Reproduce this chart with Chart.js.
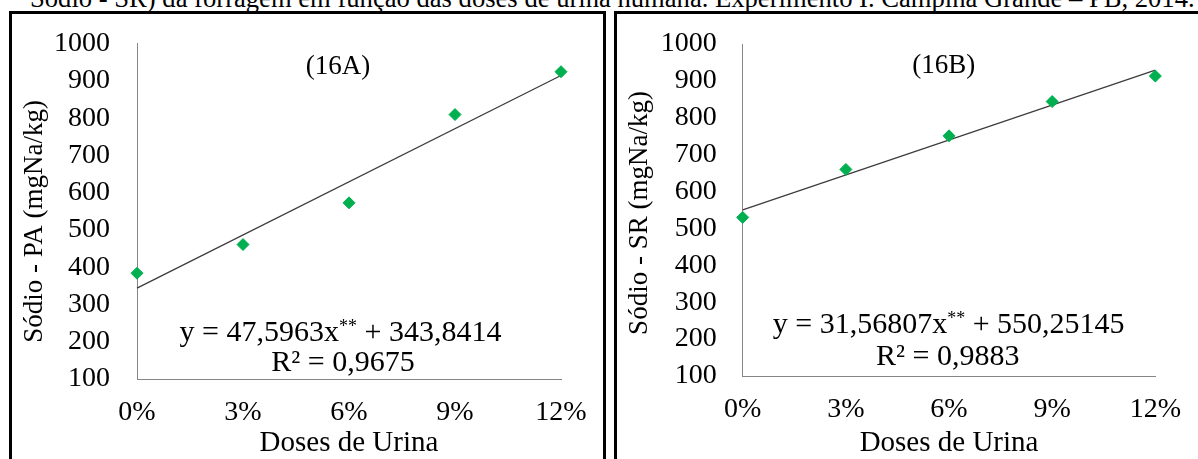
<!DOCTYPE html>
<html lang="pt-BR">
<head>
<meta charset="utf-8">
<title>Sódio na forragem em função das doses de urina humana</title>
<script src="https://cdn.jsdelivr.net/npm/chart.js@4.4.1/dist/chart.umd.min.js"></script>
<style>
  html, body { margin: 0; padding: 0; background: #fff; }
  body { width: 1198px; height: 459px; position: relative; overflow: hidden;
         font-family: "Liberation Serif", "Times New Roman", serif; }
  #caption { position: absolute; left: 30px; top: -15px; white-space: nowrap;
             font-size: 26px; line-height: 26px; color: #000; }
  .panel { position: absolute; top: 0; }
  #panelA { left: 0; }
  #panelB { left: 604px; }
  .frame { position: absolute; border: 3px solid #000; border-bottom: none; box-sizing: border-box; }
  #frameA { left: 9px; top: 11px; width: 597px; height: 470px; }
  #frameB { left: 614px; top: 11px; width: 620px; height: 470px; }
</style>
</head>
<body>
<div id="caption">Sódio - SR) da forragem em função das doses de urina humana. Experimento I. Campina Grande – PB, 2014.</div>
<div class="panel" id="panelA"><canvas id="chartA" width="604" height="459"></canvas></div>
<div class="panel" id="panelB"><canvas id="chartB" width="594" height="459"></canvas></div>
<div class="frame" id="frameA"></div>
<div class="frame" id="frameB"></div>
<script>
// Doses de urina (%) e teores de sódio (mg Na/kg)
const doses = [0, 3, 6, 9, 12];
const doseLabels = ['0%', '3%', '6%', '9%', '12%'];
const sodioPA = [384, 461, 573, 810, 925];
const sodioSR = [530, 660, 751, 844, 913];
const yLimits = [100, 1000];
const yStep = 100;

// Regressões lineares: [coeficiente angular, intercepto] e R²
const ajustePA = [47.5963, 343.8414];
const r2PA = 0.9675;
const ajusteSR = [31.56807, 550.25145];
const r2SR = 0.9883;

const SERIF = "'Liberation Serif', 'Times New Roman', serif";
const fmt = v => String(v).replace('.', ',');

Chart.defaults.font.family = SERIF;
Chart.defaults.color = '#000';

// Fit the caption line to its column width
(function () {
  const cap = document.getElementById('caption');
  const w = cap.getBoundingClientRect().width;
  cap.style.fontSize = (26 * 1165 / w) + 'px';
})();

// Vertical axis title, panel tag, regression equation and R²
const panelText = {
  id: 'panelText',
  afterDatasetsDraw(chart, args, o) {
    const { ctx, chartArea: a } = chart;
    ctx.save();
    ctx.fillStyle = '#000';

    // rotated y-axis title
    ctx.save();
    ctx.font = `${o.yTitleSize}px ${SERIF}`;
    ctx.textAlign = 'center';
    ctx.textBaseline = 'middle';
    ctx.translate(o.yTitlePos[0], (a.top + a.bottom) / 2 + o.yTitlePos[1]);
    ctx.rotate(-Math.PI / 2);
    ctx.fillText(o.yTitle, 0, 0);
    ctx.restore();

    ctx.textBaseline = 'alphabetic';
    ctx.font = `${o.tagSize}px ${SERIF}`;
    ctx.textAlign = 'center';
    ctx.fillText(o.tag, a.left + o.tagPos[0], a.top + o.tagPos[1]);

    const big = `${o.eqSize}px ${SERIF}`;
    const small = `${Math.round(o.eqSize * 0.6)}px ${SERIF}`;
    const p1 = `y = ${fmt(o.fit[0])}x`, sup = '**', p2 = ` + ${fmt(o.fit[1])}`;
    ctx.font = big;
    const w1 = ctx.measureText(p1).width, w3 = ctx.measureText(p2).width;
    ctx.font = small;
    const w2 = ctx.measureText(sup).width;
    let x = a.left + o.eqPos[0] - (w1 + w2 + w3) / 2;
    const y = a.bottom + o.eqPos[1];
    ctx.textAlign = 'left';
    ctx.font = big; ctx.fillText(p1, x, y); x += w1;
    ctx.font = small; ctx.fillText(sup, x, y - o.eqSize * 0.3); x += w2;
    ctx.font = big; ctx.fillText(p2, x, y);

    ctx.textAlign = 'center';
    ctx.fillText(`R² = ${fmt(o.r2)}`, a.left + o.r2Pos[0], a.bottom + o.r2Pos[1]);
    ctx.restore();
  }
};

function buildChart(canvasId, values, fit, r2, yTitle, tag, L) {
  const points = doses.map((d, i) => ({ x: d, y: values[i] }));
  const xEnds = [doses[0], doses[doses.length - 1]];
  const trend = xEnds.map(d => ({ x: d, y: fit[0] * d + fit[1] }));
  return new Chart(document.getElementById(canvasId), {
    type: 'scatter',
    data: {
      datasets: [
        {
          data: points,
          clip: false,
          pointStyle: 'rectRot',
          pointRadius: 6,
          pointBorderWidth: 1,
          backgroundColor: '#00B050',
          borderColor: '#00B050'
        },
        {
          type: 'line',
          data: trend,
          clip: false,
          borderColor: '#3c3c3c',
          borderWidth: 1.3,
          pointRadius: 0,
          fill: false
        }
      ]
    },
    options: {
      responsive: false,
      animation: false,
      events: [],
      layout: { padding: L.padding },
      plugins: {
        legend: { display: false },
        tooltip: { enabled: false },
        panelText: {
          tag: tag, fit: fit, r2: r2, yTitle: yTitle,
          tagSize: 27, eqSize: 30, yTitleSize: 27,
          yTitlePos: L.yTitlePos,
          tagPos: L.tagPos, eqPos: L.eqPos, r2Pos: L.r2Pos
        }
      },
      scales: {
        x: {
          type: 'linear',
          min: doses[0],
          max: doses[doses.length - 1],
          grid: { display: false, drawTicks: false },
          border: { display: true, color: '#868686', width: 1 },
          ticks: {
            stepSize: 3,
            padding: 17,
            color: '#000',
            font: { family: SERIF, size: 28 },
            callback: v => doseLabels[doses.indexOf(v)]
          },
          title: {
            display: true,
            text: 'Doses de Urina',
            color: '#000',
            font: { family: SERIF, size: 29, lineHeight: 1.1 },
            padding: { top: 0, bottom: 0 }
          },
          afterFit: s => { s.height = L.xHeight; }
        },
        y: {
          type: 'linear',
          min: yLimits[0],
          max: yLimits[1],
          grid: { display: false, drawTicks: false },
          border: { display: true, color: '#868686', width: 1 },
          ticks: {
            stepSize: yStep,
            padding: L.yTickPad,
            color: '#000',
            font: { family: SERIF, size: 28 },
            callback: v => String(v)
          },
          title: { display: false },
          afterFit: s => { s.width = L.yWidth; }
        }
      }
    },
    plugins: [panelText]
  });
}

buildChart('chartA', sodioPA, ajustePA, r2PA, 'Sódio - PA (mgNa/kg)', '(16A)', {
  padding: { left: 0, top: 42, right: 43, bottom: 0 },
  yWidth: 137, xHeight: 80, yTickPad: 27,
  yTitlePos: [34.5, 10],
  tagPos: [201, 30], eqPos: [203.5, -38], r2Pos: [206, -8.5]
});

buildChart('chartB', sodioSR, ajusteSR, r2SR, 'Sódio - SR (mgNa/kg)', '(16B)', {
  padding: { left: 0, top: 44, right: 32, bottom: 0 },
  yWidth: 138.7, xHeight: 83, yTickPad: 26,
  yTitlePos: [36, 3],
  tagPos: [201, 28.5], eqPos: [206, -43], r2Pos: [205, -11]
});
</script>
</body>
</html>
